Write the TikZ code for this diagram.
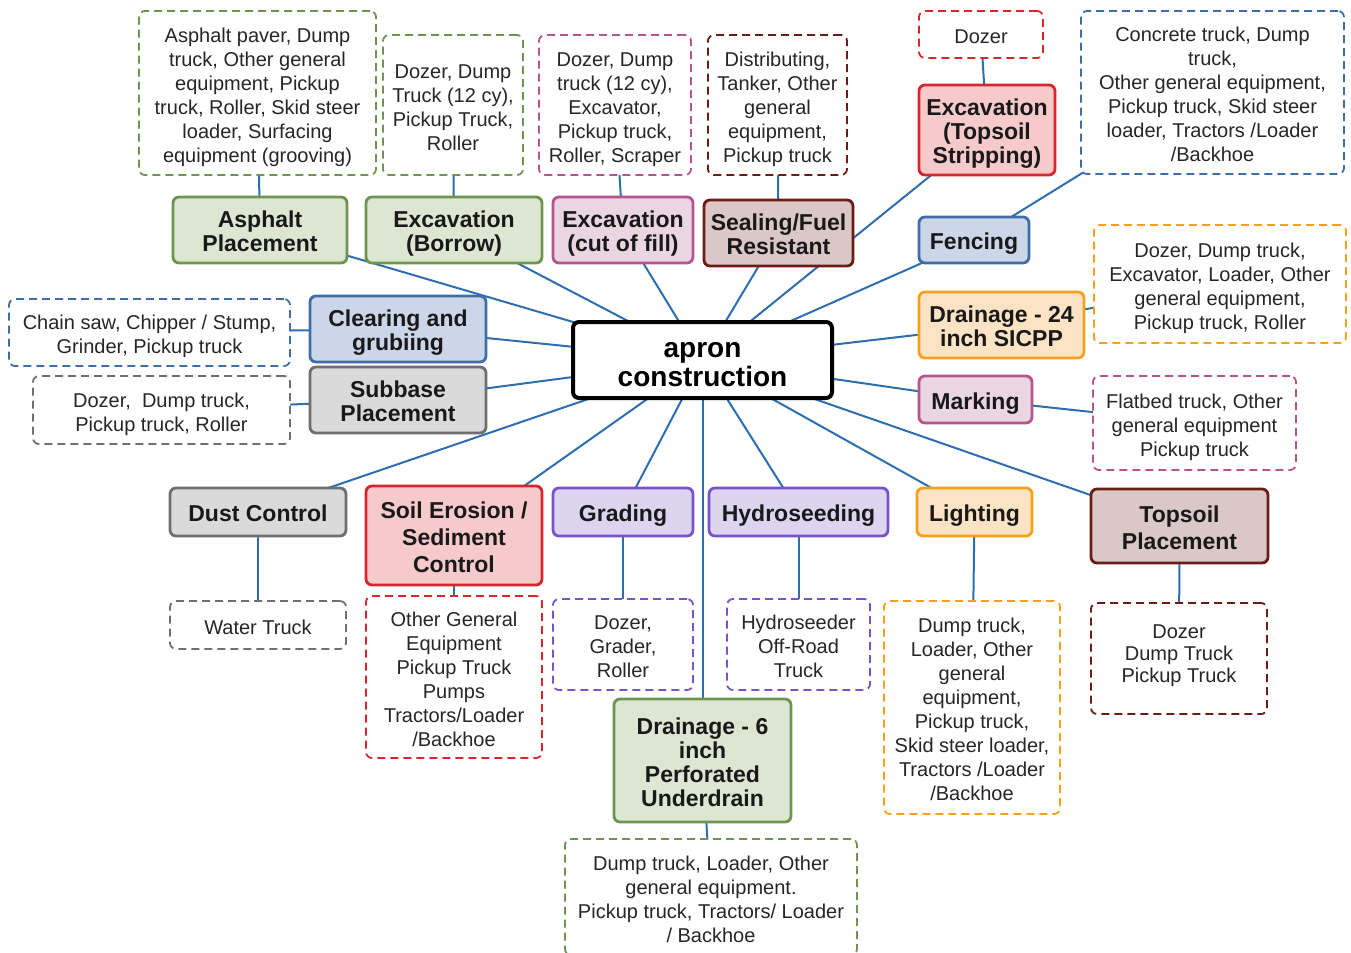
\documentclass[tikz,border=0pt]{standalone}
\usepackage{fontspec}
\setmainfont{Liberation Sans}
\usetikzlibrary{backgrounds}
\definecolor{linkblue}{HTML}{2E6DB0}
\definecolor{grnB}{HTML}{6E9450}\definecolor{grnF}{HTML}{DCE6D2}
\definecolor{redB}{HTML}{D9262E}\definecolor{redF}{HTML}{F6C9CB}
\definecolor{drkB}{HTML}{6B1C14}\definecolor{drkF}{HTML}{D9C8C5}
\definecolor{purB}{HTML}{7A52C9}\definecolor{purF}{HTML}{DCD5F0}
\definecolor{bluB}{HTML}{3E6DA8}\definecolor{bluF}{HTML}{CBD6E8}
\definecolor{orgB}{HTML}{F7A11A}\definecolor{orgF}{HTML}{FCE3C4}
\definecolor{pnkB}{HTML}{B5548E}\definecolor{pnkF}{HTML}{EAD6E2}
\definecolor{gryB}{HTML}{6F6F6F}\definecolor{gryF}{HTML}{DADADA}
\newcommand\shiftlbl[2]{\raisebox{-#1}[0pt][0pt]{\begin{tabular}{@{}c@{}}#2\end{tabular}}}
\newcommand\mainlbl[1]{\shiftlbl{5.4pt}{#1}}
\newcommand\dashlbl[1]{\shiftlbl{4.6pt}{#1}}
\tikzset{
  mainbox/.style={draw, line width=1.4pt, rounded corners=3pt, inner sep=0pt,
    font=\fontsize{11.5}{12}\selectfont\bfseries, text=black!90},
  dbox/.style={draw, fill=white, line width=0.9pt, dash pattern=on 4pt off 2.5pt, rounded corners=3pt,
    inner sep=0pt, font=\fontsize{10}{12}\selectfont, text=black!85},
  link/.style={draw=linkblue, line width=1pt},
  grn/.style={draw=grnB, fill=grnF}, redc/.style={draw=redB, fill=redF},
  drk/.style={draw=drkB, fill=drkF}, pur/.style={draw=purB, fill=purF},
  blu/.style={draw=bluB, fill=bluF}, org/.style={draw=orgB, fill=orgF},
  pnk/.style={draw=pnkB, fill=pnkF}, gry/.style={draw=gryB, fill=gryF},
  sz/.style 2 args={minimum width=#1, minimum height=#2}
}
\begin{document}
\begin{tikzpicture}[x=0.5pt,y=-0.5pt]
\useasboundingbox (0,0) rectangle (1351,953);
% center
\node[draw=black, fill=white, line width=2pt, rounded corners=3pt, inner sep=0pt,
  font=\fontsize{14}{13.5}\selectfont\bfseries, sz={129.5pt}{38pt}] (c) at (702.5,360) {\shiftlbl{6.9pt}{apron\\construction}};
% main nodes
\node[mainbox,grn,sz={87pt}{33pt}] (asp) at (260,230) {\mainlbl{Asphalt\\Placement}};
\node[mainbox,grn,sz={88pt}{33pt}] (bor) at (454,230) {\mainlbl{Excavation\\(Borrow)}};
\node[mainbox,pnk,sz={70pt}{33pt}] (cut) at (623,230) {\mainlbl{Excavation\\(cut of fill)}};
\node[mainbox,drk,sz={74.5pt}{33pt}] (seal) at (778.5,233) {\mainlbl{Sealing/Fuel\\Resistant}};
\node[mainbox,redc,sz={68pt}{45pt}] (strip) at (987,130) {\mainlbl{Excavation\\(Topsoil\\Stripping)}};
\node[mainbox,blu,sz={55pt}{23pt}] (fen) at (974,240) {\mainlbl{Fencing}};
\node[mainbox,org,sz={82.5pt}{33pt}] (dr24) at (1001.5,325) {\mainlbl{Drainage - 24\\inch SICPP}};
\node[mainbox,pnk,sz={56.5pt}{23.5pt}] (mark) at (975.5,399.5) {\mainlbl{Marking}};
\node[mainbox,drk,sz={88.5pt}{37pt},font=\fontsize{11.5}{13.5}\selectfont\bfseries] (tsp) at (1179.5,526) {\mainlbl{Topsoil\\Placement}};
\node[mainbox,org,sz={57.5pt}{24pt}] (lig) at (974.5,512) {\mainlbl{Lighting}};
\node[mainbox,pur,sz={89.5pt}{24pt}] (hyd) at (798.5,512) {\mainlbl{Hydroseeding}};
\node[mainbox,pur,sz={70pt}{24pt}] (gra) at (623,512) {\mainlbl{Grading}};
\node[mainbox,redc,sz={88pt}{49.5pt},font=\fontsize{11.5}{13.5}\selectfont\bfseries] (soil) at (454,535.5) {\mainlbl{Soil Erosion /\\Sediment\\Control}};
\node[mainbox,gry,sz={88pt}{24pt}] (dust) at (258,512) {\mainlbl{Dust Control}};
\node[mainbox,gry,sz={88pt}{33pt}] (sub) at (398,400) {\mainlbl{Subbase\\Placement}};
\node[mainbox,blu,sz={88pt}{33pt}] (clr) at (398,329) {\mainlbl{Clearing and\\grubiing}};
\node[mainbox,grn,sz={88.5pt}{61.5pt}] (dr6) at (702.5,760.5) {\mainlbl{Drainage - 6\\inch\\Perforated\\Underdrain}};
% dashed boxes
\node[dbox,draw=grnB,sz={118.5pt}{82pt}] (dasp) at (257.5,93) {\dashlbl{Asphalt paver, Dump\\truck, Other general\\equipment, Pickup\\truck, Roller, Skid steer\\loader, Surfacing\\equipment (grooving)}};
\node[dbox,draw=grnB,sz={70pt}{70pt}] (dbor) at (453,105) {\dashlbl{Dozer, Dump\\Truck (12 cy),\\Pickup Truck,\\Roller}};
\node[dbox,draw=pnkB,sz={76pt}{70pt}] (dcut) at (615,105) {\dashlbl{Dozer, Dump\\truck (12 cy),\\Excavator,\\Pickup truck,\\Roller, Scraper}};
\node[dbox,draw=drkB,sz={69.5pt}{70pt}] (dseal) at (777.5,105) {\dashlbl{Distributing,\\Tanker, Other\\general\\equipment,\\Pickup truck}};
\node[dbox,draw=redB,sz={62pt}{23.5pt}] (dstrip) at (981,34.5) {\dashlbl{Dozer}};
\node[dbox,draw=bluB,sz={131.5pt}{81.5pt}] (dfen) at (1212.5,92.5) {\dashlbl{Concrete truck, Dump\\truck,\\Other general equipment,\\Pickup truck, Skid steer\\loader, Tractors /Loader\\/Backhoe}};
\node[dbox,draw=orgB,sz={126pt}{59pt}] (ddr24) at (1220,284) {\dashlbl{Dozer, Dump truck,\\Excavator, Loader, Other\\general equipment,\\Pickup truck, Roller}};
\node[dbox,draw=pnkB,sz={101.5pt}{47pt}] (dmark) at (1194.5,423) {\dashlbl{Flatbed truck, Other\\general equipment\\Pickup truck}};
\node[dbox,draw=drkB,sz={88pt}{55.5pt},font=\fontsize{10}{11}\selectfont] (dtsp) at (1179,658.5) {\shiftlbl{1.1pt}{Dozer\\Dump Truck\\Pickup Truck}};
\node[dbox,draw=orgB,sz={88pt}{106.5pt}] (dlig) at (972,707.5) {\dashlbl{Dump truck,\\Loader, Other\\general\\equipment,\\Pickup truck,\\Skid steer loader,\\Tractors /Loader\\/Backhoe}};
\node[dbox,draw=purB,sz={71.5pt}{45.5pt}] (dhyd) at (798.5,644.5) {\dashlbl{Hydroseeder\\Off-Road\\Truck}};
\node[dbox,draw=purB,sz={70pt}{45.5pt}] (dgra) at (623,644.5) {\dashlbl{Dozer,\\Grader,\\Roller}};
\node[dbox,draw=redB,sz={88pt}{81pt}] (dsoil) at (454,677) {\dashlbl{Other General\\Equipment\\Pickup Truck\\Pumps\\Tractors/Loader\\/Backhoe}};
\node[dbox,draw=gryB,sz={88pt}{24pt}] (ddust) at (258,625) {\dashlbl{Water Truck}};
\node[dbox,draw=gryB,sz={128.5pt}{34pt}] (dsub) at (161.5,410) {\dashlbl{Dozer,\ \ Dump truck,\\Pickup truck, Roller}};
\node[dbox,draw=bluB,sz={140.5pt}{33.5pt}] (dclr) at (149.5,332.5) {\dashlbl{Chain saw, Chipper / Stump,\\Grinder, Pickup truck}};
\node[dbox,draw=grnB,sz={146pt}{58pt}] (ddr6) at (711,897) {\dashlbl{Dump truck, Loader, Other\\general equipment.\\Pickup truck, Tractors/ Loader\\/ Backhoe}};
% connectors
\begin{scope}[on background layer]
\foreach \n in {asp,bor,cut,seal,strip,fen,dr24,mark,tsp,lig,hyd,gra,soil,dust,sub,clr,dr6}
  \draw[link] (c.center) -- (\n.center);
\foreach \a/\b in {asp/dasp,bor/dbor,cut/dcut,seal/dseal,strip/dstrip,fen/dfen,dr24/ddr24,mark/dmark,tsp/dtsp,lig/dlig,hyd/dhyd,gra/dgra,soil/dsoil,dust/ddust,sub/dsub,clr/dclr,dr6/ddr6}
  \draw[link] (\a.center) -- (\b.center);
\end{scope}
\end{tikzpicture}
\end{document}
